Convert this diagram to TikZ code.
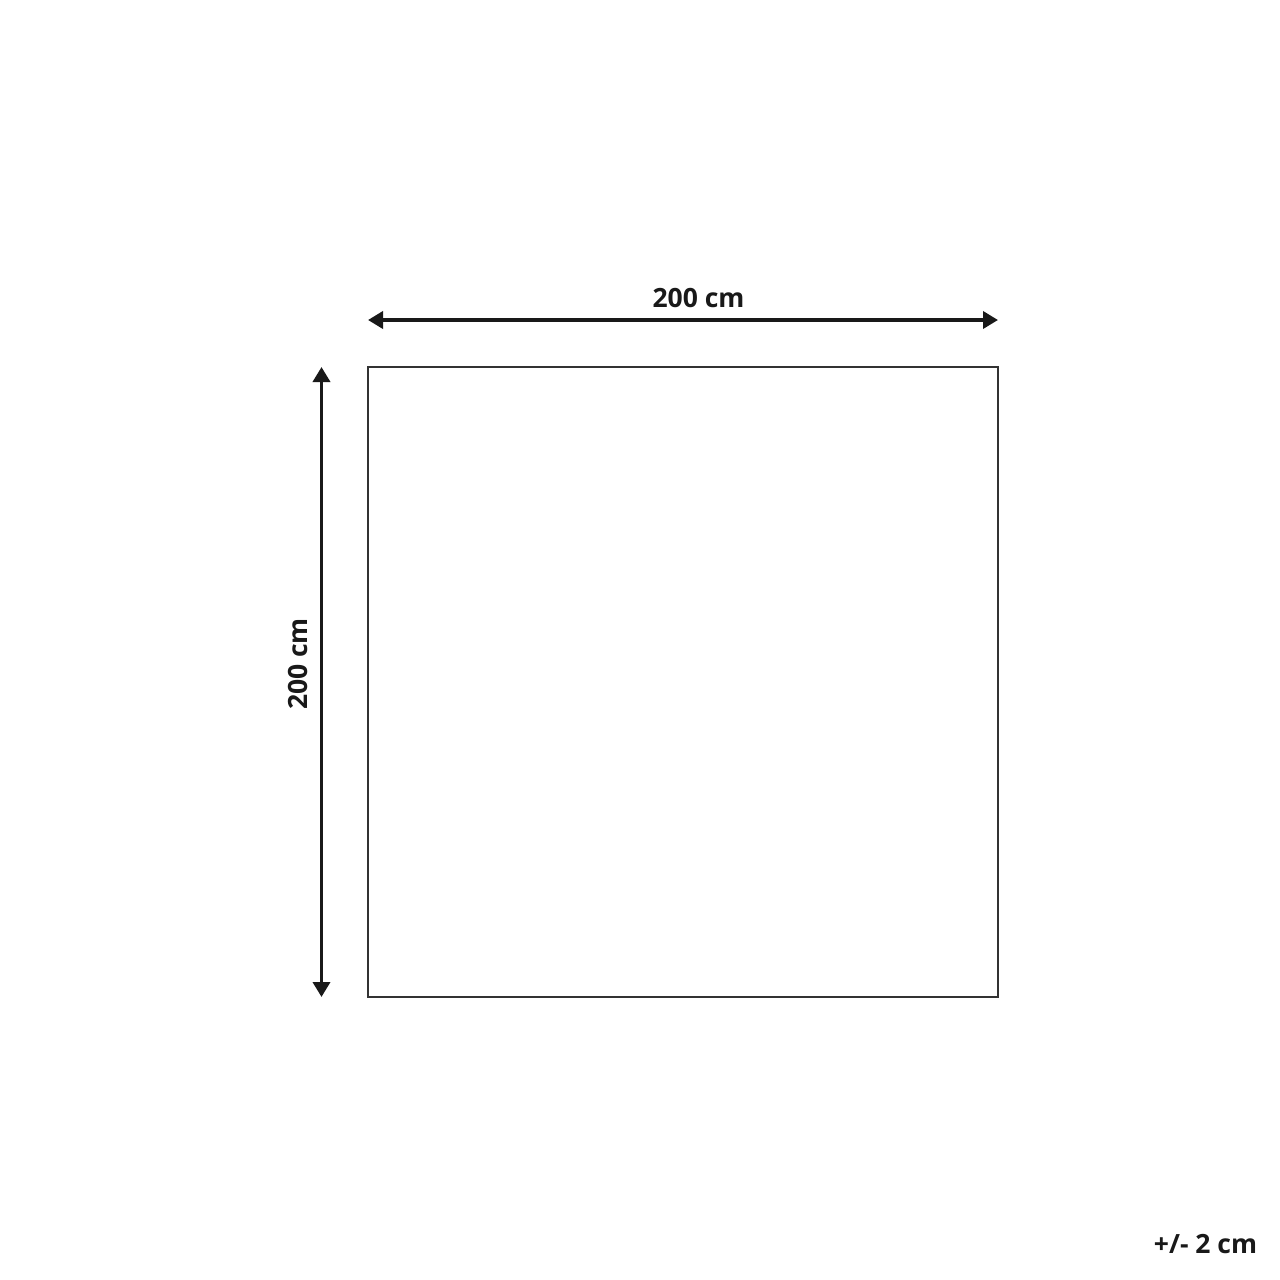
\documentclass[tikz,border=0pt]{standalone}
\usepackage{fontspec}
\setmainfont{Open Sans}
\usetikzlibrary{arrows.meta}
\begin{document}
\begin{tikzpicture}[x=1pt,y=-1pt,
  dimline/.style={line width=3.6pt,draw=black!90,{Triangle[length=15pt,width=17pt]}-{Triangle[length=15pt,width=17pt]}},
  lbl/.style={font=\fontsize{26.5}{30}\selectfont\bfseries,text=black!90,inner sep=0pt}]
\useasboundingbox (0,0) rectangle (1280,1280);
\node[draw=black!80,line width=1.3pt,minimum width=630pt,minimum height=630pt,inner sep=0pt] (sq) at (683,682) {};
\coordinate (hl) at (368,320);
\coordinate (hr) at (998,320);
\coordinate (vt) at (321.5,367);
\coordinate (vb) at (321.5,997);
\draw[dimline] (hl) -- (hr);
\draw[dimline] (vt) -- (vb);
\node[lbl] (wl) at (698.5,298.5) {200 cm};
\node[lbl,rotate=90] (hlbl) at (298.5,664) {200 cm};
\node[lbl] (tol) at (1205.5,1244) {+/- 2 cm};
\end{tikzpicture}
\end{document}
